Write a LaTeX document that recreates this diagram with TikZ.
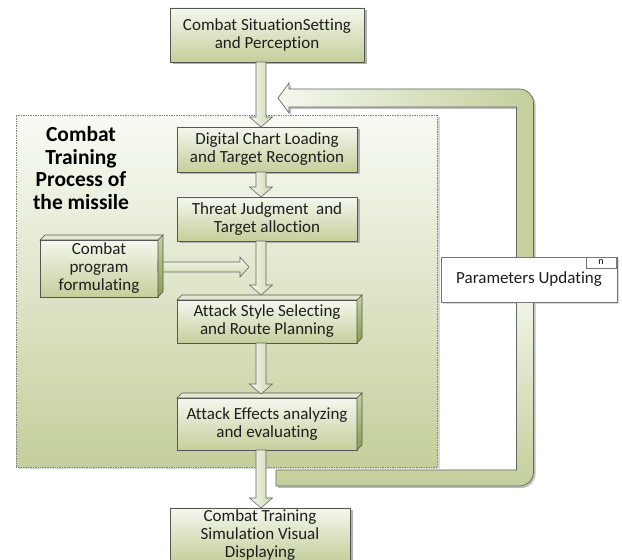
\documentclass[tikz,border=0pt]{standalone}
\usepackage{fontspec}
\setmainfont{Carlito}[Ligatures=NoCommon]
\usetikzlibrary{calc,shadows}
\definecolor{grn}{HTML}{C3CF9B}
\definecolor{lgt}{HTML}{F5F7EE}
\definecolor{bord}{HTML}{555555}
\definecolor{dgrn}{HTML}{8A9E50}
\definecolor{sidet}{HTML}{C5D2A0}
\definecolor{topc}{HTML}{E4EAD2}
\definecolor{txt}{HTML}{1E1E1E}

\newcommand{\threedfaces}[1]{%
  \path[draw=bord, line width=0.6pt, fill=topc] (#1.north west) -- ++(5,5) -- ($(#1.north east)+(5,5)$) -- (#1.north east) -- cycle;
  \path[draw=bord, line width=0.6pt, top color=sidet, bottom color=dgrn] (#1.north east) -- ++(5,5) -- ($(#1.south east)+(5,5)$) -- (#1.south east) -- cycle;
}
\newcommand{\vblock}[2]{%
  \path[blockarrow] let \p1=(#1), \p2=(#2) in
    (\x1-5pt,\y1) -- (\x1+5pt,\y1) -- (\x1+5pt,\y2+10pt) -- (\x1+11.5pt,\y2+10pt)
    -- (\x1,\y2) -- (\x1-11.5pt,\y2+10pt) -- (\x1-5pt,\y2+10pt) -- cycle;
}
\newcommand{\hblock}[2]{%
  \path[blockarrowh] let \p1=(#1), \p2=(#2) in
    (\x1,\y1+5pt) -- (\x2-9pt,\y1+5pt) -- (\x2-9pt,\y1+10pt) -- (\x2,\y1)
    -- (\x2-9pt,\y1-10pt) -- (\x2-9pt,\y1-5pt) -- (\x1,\y1-5pt) -- cycle;
}

\begin{document}
\begin{tikzpicture}[x=1pt,y=1pt,
  boxtext/.style={font=\fontsize{17}{18}\selectfont, text=txt, align=center},
  flatbox/.style={boxtext, draw=bord, line width=0.9pt, top color=lgt, bottom color=grn,
    minimum width=180, minimum height=45, inner sep=0pt, outer sep=0pt,
    drop shadow={shadow xshift=2.5pt, shadow yshift=-2.5pt, fill=black!30, opacity=1}},
  cubebox/.style={boxtext, draw=bord, line width=0.9pt, top color=lgt, bottom color=grn,
    minimum width=180, minimum height=45, inner sep=0pt, outer sep=0pt},
  blockarrow/.style={draw=bord!90, line width=0.6pt, left color=lgt, right color=grn!80!white},
  blockarrowh/.style={draw=bord!90, line width=0.6pt, top color=lgt, bottom color=grn!80!white},
  container/.style={draw=gray, densely dotted, line width=0.7pt, top color=lgt!60!white, bottom color=grn,
    minimum width=421, minimum height=352, inner sep=0pt, outer sep=0pt},
  band/.style={draw=bord!90, line width=0.7pt,
    drop shadow={shadow xshift=2pt, shadow yshift=-2pt, fill=black!25, opacity=1}},
]
\useasboundingbox (0,0) rectangle (622,560);
\fill[white] (0,0) rectangle (622,560);

% container
\fill[black!15] (18.5,90.5) rectangle (439.5,442.5);
\node[container] (cont) at (226.5,269) {};
\node[font=\bfseries\fontsize{21.5}{22.7}\selectfont, text=black, align=center] (lbl) at (81,392)
  {Combat\\Training\\Process of\\the missile};

% reference coordinates
\coordinate (ax) at (261,0);
\coordinate (hx) at (249,0);
\coordinate (fbx) at (525,0);
\coordinate (fbtip) at (278,462);
\coordinate (fbtail) at (276,82);

% nodes
\node[flatbox, minimum width=194, minimum height=54] (sit) at (267,525)
  {Combat SituationSetting\\and Perception};
\node[flatbox] (chart) at (267,410.5)
  {Digital Chart Loading\\and Target Recogntion};
\node[flatbox, minimum height=44] (threat) at (267,341)
  {Threat Judgment\ \ and\\Target alloction};
\node[draw=bord!80, line width=0.8pt, fill=white, minimum width=176, minimum height=45,
  boxtext, outer sep=0pt,
  drop shadow={shadow xshift=2pt, shadow yshift=-2pt, fill=black!15, opacity=1}] (params) at (529,280.5) {};

% feedback band (upper part: back into the flow; lower part: into parameters)
\path[band, left color=lgt, right color=grn] let \p1=(fbtip), \p2=(fbx), \p3=(params.center) in
  (\x1,\y1) -- (\x1+11pt,\y1+15pt) -- (\x1+11pt,\y1+9pt) -- (\x2-5.5pt,\y1+9pt)
  arc[start angle=90, end angle=0, radius=14pt] -- (\x2+8.5pt,\y3) -- (\x2-8.5pt,\y3)
  -- (\x2-8.5pt,\y1-9pt) -- (\x1+11pt,\y1-9pt) -- (\x1+11pt,\y1-15pt) -- cycle;
\path[band, top color=lgt, bottom color=grn] let \p1=(fbtail), \p2=(fbx), \p3=(params.center) in
  (\x2-8.5pt,\y3) -- (\x2-8.5pt,\y1+8pt) -- (\x1,\y1+8pt) -- (\x1,\y1-8pt) -- (\x2-5.5pt,\y1-8pt)
  arc[start angle=-90, end angle=0, radius=14pt] -- (\x2+8.5pt,\y3) -- cycle;

% parameters box on top of the band
\node[draw=bord!80, line width=0.8pt, fill=white, minimum width=176, minimum height=45,
  boxtext, outer sep=0pt] (params2) at (params.center) {Parameters Updating};
\node[draw=bord!80, line width=0.6pt, fill=white, minimum width=30, minimum height=11,
  inner sep=0pt, outer sep=0pt, anchor=north east, font=\fontsize{10}{10}\selectfont] (ntab)
  at ([xshift=-1pt]params2.north east) {n};

% 3D boxes
\node[cubebox, minimum height=43] (style) at (267,238.5)
  {Attack Style Selecting\\and Route Planning};
\threedfaces{style}
\node[cubebox, minimum height=52] (effects) at (267,136)
  {Attack Effects analyzing\\and evaluating};
\threedfaces{effects}

\node[flatbox, minimum height=54] (display) at (260,25)
  {Combat Training\\Simulation Visual\\Displaying};

% block arrows along the flow
\vblock{sit.south -| ax}{chart.north -| ax}
\vblock{chart.south -| ax}{threat.north -| ax}
\vblock{threat.south -| ax}{[yshift=5pt]style.north -| ax}
\vblock{style.south -| ax}{[yshift=4pt]effects.north -| ax}
\vblock{effects.south -| ax}{display.north -| ax}

% combat program box with its arrow
\node[cubebox, minimum width=118, minimum height=57] (prog) at (99,291.5)
  {Combat\\program\\formulating};
\hblock{[yshift=1.5pt]prog.east}{[yshift=1.5pt]prog.east -| hx}
\threedfaces{prog}
\end{tikzpicture}
\end{document}
